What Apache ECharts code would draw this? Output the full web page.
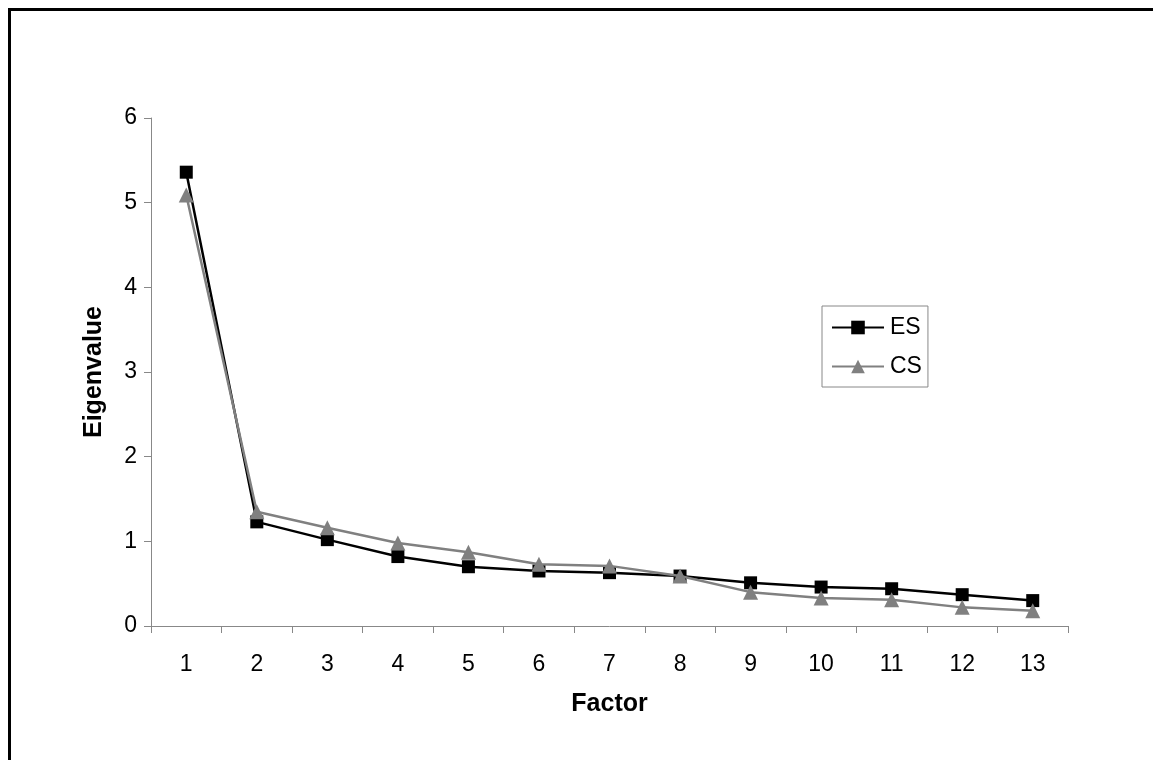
<!DOCTYPE html>
<html>
<head>
<meta charset="utf-8">
<script src="https://cdn.jsdelivr.net/npm/echarts@6/dist/echarts.min.js"></script>
<style>
html,body{margin:0;padding:0;background:#fff;}
#frame{position:absolute;left:8px;top:8px;width:1145px;height:752px;border-left:3px solid #000;border-top:3px solid #000;box-sizing:border-box;}
#chart{position:absolute;left:0;top:0;width:1153px;height:760px;}
</style>
</head>
<body>
<div id="frame"></div>
<div id="chart"></div>
<script>
const factors = ['1','2','3','4','5','6','7','8','9','10','11','12','13'];
const esValues = [5.36,1.23,1.02,0.82,0.70,0.65,0.63,0.59,0.51,0.46,0.44,0.37,0.30];
const csValues = [5.09,1.35,1.16,0.98,0.87,0.73,0.71,0.59,0.40,0.33,0.31,0.22,0.18];
const yMin = 0, yMax = 6, yStep = 1;

const font = 'Liberation Sans, Arial, sans-serif';
const chart = echarts.init(document.getElementById('chart'));
chart.setOption({
  animation: false,
  backgroundColor: 'transparent',
  grid: {left: 151, right: 85, top: 118, bottom: 134, containLabel: false},
  legend: {
    orient: 'vertical',
    left: 822, top: 306,
    width: 106,
    padding: [10, 6, 9, 9],
    borderColor: '#888', borderWidth: 1,
    itemGap: 16,
    itemWidth: 52, itemHeight: 17,
    textStyle: {fontFamily: font, fontSize: 23, color: '#000', padding: [0,0,0,1]},
    data: ['ES','CS']
  },
  xAxis: {
    type: 'category',
    data: factors,
    boundaryGap: true,
    name: 'Factor',
    nameLocation: 'middle',
    nameGap: 66,
    nameTextStyle: {fontFamily: font, fontSize: 25, fontWeight: 'bold', color: '#000'},
    axisLine: {lineStyle: {color: '#888', width: 1}},
    axisTick: {show: true, alignWithLabel: false, length: 7, lineStyle: {color: '#888'}},
    axisLabel: {fontFamily: font, fontSize: 23, color: '#000', margin: 27},
    splitLine: {show: false}
  },
  yAxis: {
    type: 'value',
    min: yMin, max: yMax, interval: yStep,
    name: 'Eigenvalue',
    nameLocation: 'middle',
    nameGap: 44,
    nameRotate: 90,
    nameTextStyle: {fontFamily: font, fontSize: 25, fontWeight: 'bold', color: '#000'},
    axisLine: {show: true, lineStyle: {color: '#888', width: 1}},
    axisTick: {show: true, length: 7, lineStyle: {color: '#888'}},
    axisLabel: {fontFamily: font, fontSize: 23, color: '#000', margin: 14},
    splitLine: {show: false}
  },
  series: [
    {
      name: 'ES', type: 'line', data: esValues,
      symbol: 'rect', symbolSize: 13,
      lineStyle: {color: '#000', width: 2.5},
      itemStyle: {color: '#000'},
      z: 3
    },
    {
      name: 'CS', type: 'line', data: csValues,
      symbol: 'triangle', symbolSize: 15,
      lineStyle: {color: '#808080', width: 2.5},
      itemStyle: {color: '#808080'},
      z: 4
    }
  ]
});
</script>
</body>
</html>
